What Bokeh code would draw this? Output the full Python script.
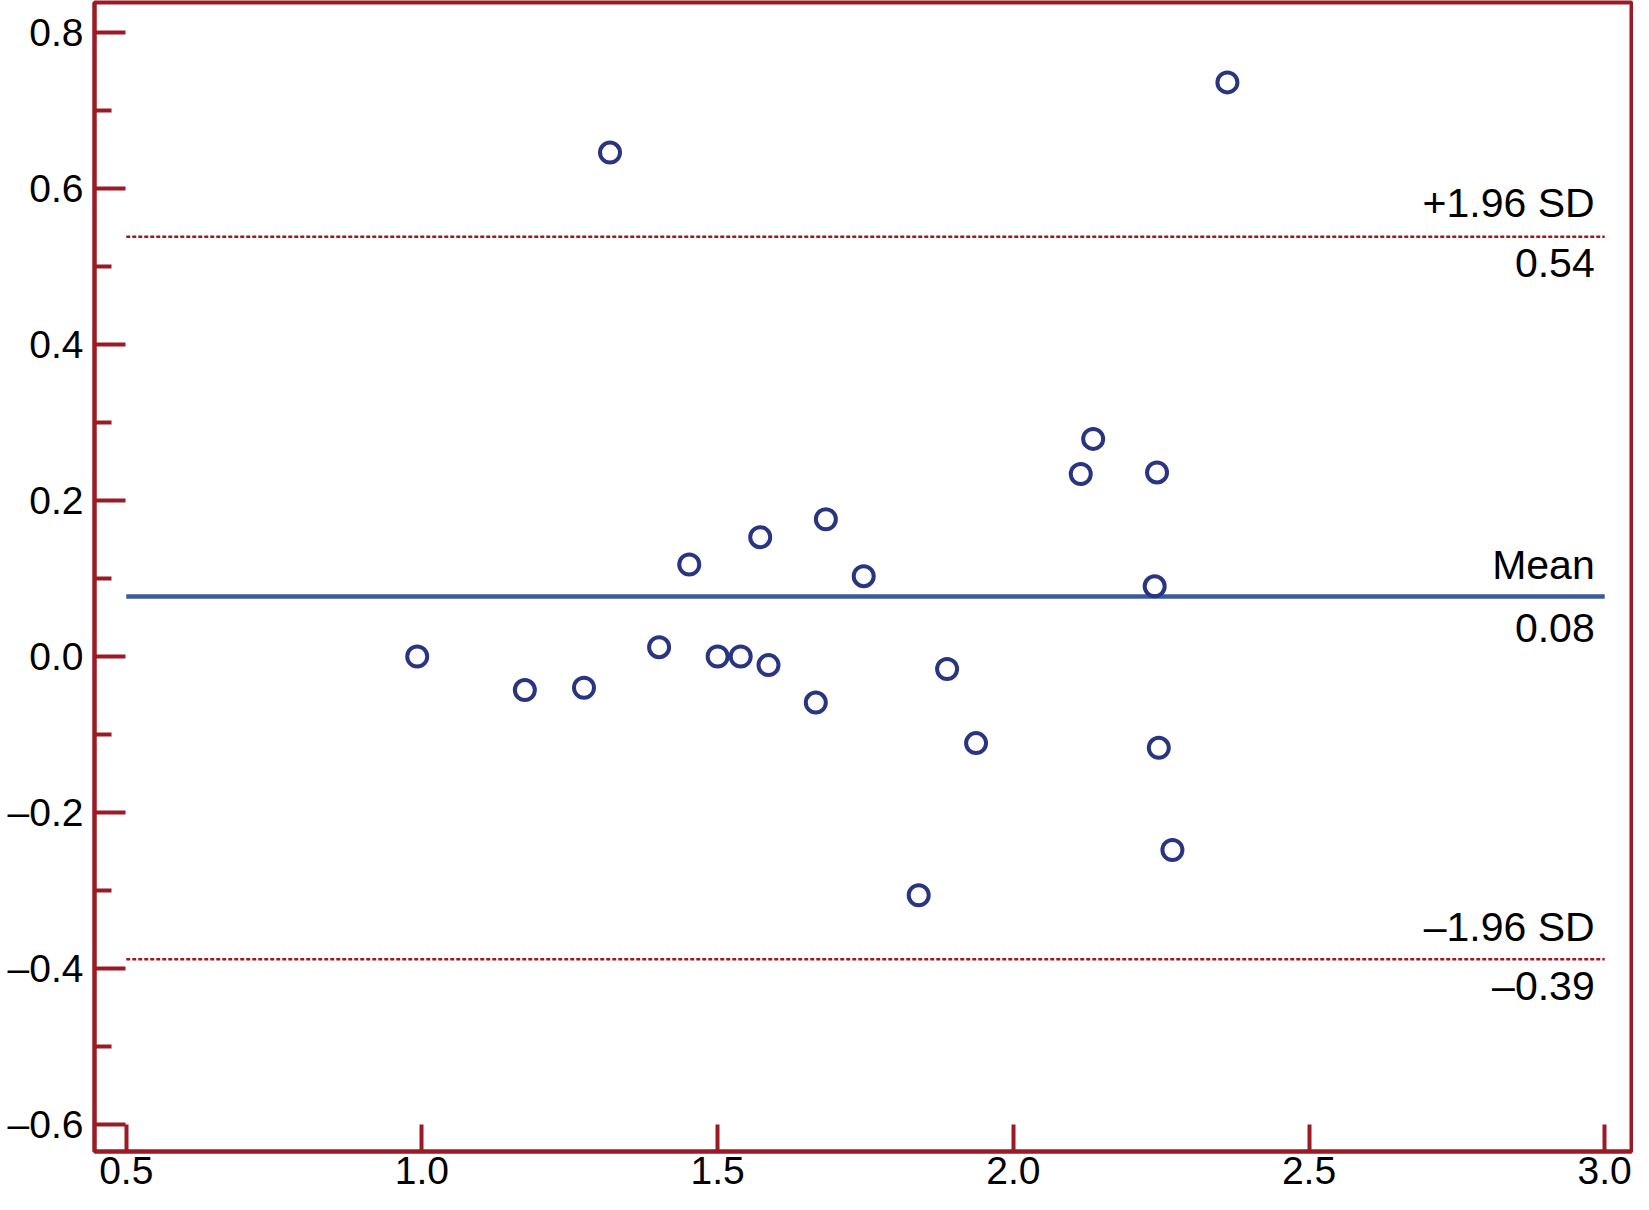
from bokeh.plotting import figure
from bokeh.models import Range1d, FixedTicker, CustomJSTickFormatter, ColumnDataSource
from bokeh.core.properties import value
from bokeh.embed import file_html
from bokeh.resources import INLINE

# ---- data ----
avg = [0.992, 1.174, 1.274, 1.318, 1.401, 1.452, 1.500, 1.539, 1.572, 1.586, 1.666, 1.683,
       1.747, 1.840, 1.888, 1.937, 2.114, 2.135, 2.239, 2.243, 2.246, 2.269, 2.362]
diff = [0.000, -0.043, -0.040, 0.646, 0.012, 0.118, 0.000, 0.000, 0.153, -0.011, -0.059, 0.176,
        0.103, -0.306, -0.016, -0.111, 0.234, 0.279, 0.090, 0.236, -0.117, -0.248, 0.736]
mean_diff = 0.077
upper_loa = 0.538
lower_loa = -0.388
line_start, line_end = 0.5, 3.0
upper_labels = ["+1.96 SD", "0.54"]
mean_labels = ["Mean", "0.08"]
lower_labels = ["\u20131.96 SD", "\u20130.39"]
x_ticks = [0.5, 1.0, 1.5, 2.0, 2.5, 3.0]
y_ticks = [-0.6, -0.4, -0.2, 0.0, 0.2, 0.4, 0.6, 0.8]
y_minor = [-0.5, -0.3, -0.1, 0.1, 0.3, 0.5, 0.7]

RED = "#9b1b24"
BLUE = "#3b5a9a"
NAVY = "#2a3582"
FONT = "Liberation Sans"

p = figure(width=1633, height=1194, output_backend="svg", toolbar_location=None,
           x_range=Range1d(0.4463, 3.0453), y_range=Range1d(-0.6345, 0.8384),
           min_border_left=94, min_border_right=2, min_border_top=2, min_border_bottom=43)
p.background_fill_color = "white"
p.border_fill_color = "white"
p.grid.visible = False
p.outline_line_color = RED
p.outline_line_width = 4
p.outline_line_alpha = 1.0

for ax in (p.xaxis[0], p.yaxis[0]):
    ax.axis_line_color = RED
    ax.axis_line_width = 4
    ax.major_tick_line_color = RED
    ax.major_tick_line_width = 4
    ax.major_tick_in = 31
    ax.major_tick_out = 0
    ax.major_label_text_font = FONT
    ax.major_label_text_font_size = "39px"
    ax.major_label_text_color = "black"
    ax.formatter = CustomJSTickFormatter(code="return tick.toFixed(1).replace('-', '\\u2013');")

p.xaxis[0].ticker = FixedTicker(ticks=x_ticks)
p.xaxis[0].minor_tick_line_color = None
p.xaxis[0].major_tick_in = 27
p.xaxis[0].major_label_standoff = 5

p.yaxis[0].ticker = FixedTicker(ticks=y_ticks, minor_ticks=y_minor)
p.yaxis[0].minor_tick_line_color = RED
p.yaxis[0].minor_tick_line_width = 4
p.yaxis[0].minor_tick_in = 17
p.yaxis[0].minor_tick_out = 0
p.yaxis[0].major_label_standoff = 11

# limits of agreement
p.segment(x0=[line_start, line_start], x1=[line_end, line_end], y0=[upper_loa, lower_loa],
          y1=[upper_loa, lower_loa], line_color=RED, line_width=2.5, line_dash="4 2")
p.segment(x0=[line_start], x1=[line_end], y0=[mean_diff], y1=[mean_diff],
          line_color=BLUE, line_width=4.5)

src = ColumnDataSource(dict(x=avg, y=diff))
p.scatter("x", "y", source=src, marker="circle", size=20, fill_color=None,
          line_color=NAVY, line_width=4)

def lab(txt, yv, off):
    p.text(x=[line_end], y=[yv], text=[txt], text_align="right", text_baseline="alphabetic",
           x_offset=-10, y_offset=off, text_font=value(FONT), text_font_size="41px",
           text_color="black")

lab(upper_labels[0], upper_loa, -34)
lab(upper_labels[1], upper_loa, 26)
lab(mean_labels[0], mean_diff, -31)
lab(mean_labels[1], mean_diff, 32)
lab(lower_labels[0], lower_loa, -32)
lab(lower_labels[1], lower_loa, 27)

open("out.html", "w").write(file_html(p, INLINE))
